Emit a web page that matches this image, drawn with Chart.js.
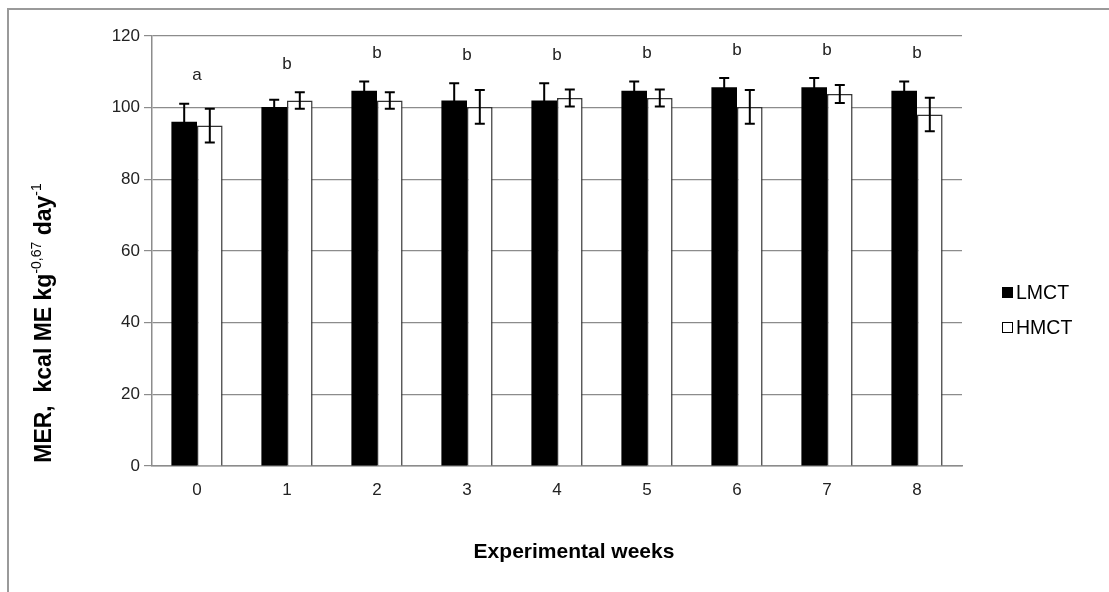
<!DOCTYPE html>
<html>
<head>
<meta charset="utf-8">
<script src="https://cdn.jsdelivr.net/npm/chart.js@4"></script>
<style>
  html, body { margin: 0; padding: 0; background: #fff; }
  #wrap { position: relative; width: 1109px; height: 592px; }
</style>
</head>
<body>
<div id="wrap"><canvas id="merChart" width="1109" height="592"></canvas></div>
<script>
// data
const weeks = ['0', '1', '2', '3', '4', '5', '6', '7', '8'];
const lmct = [96.1, 100.2, 104.7, 102.0, 102.0, 104.7, 105.7, 105.7, 104.7];
const lmctErr = [5.0, 2.0, 2.6, 4.8, 4.8, 2.6, 2.6, 2.6, 2.6];
const hmct = [95.0, 102.0, 102.0, 100.2, 102.7, 102.7, 100.2, 103.8, 98.1];
const hmctErr = [4.7, 2.3, 2.3, 4.7, 2.4, 2.4, 4.7, 2.5, 4.7];
const letters = ['a', 'b', 'b', 'b', 'b', 'b', 'b', 'b', 'b'];
const yTicks = [0, 20, 40, 60, 80, 100, 120];

const FONT = '"Liberation Sans", Arial, sans-serif';
const GRID = '#8c8c8c';

// frame, error bars, letters, titles and legend
const extras = {
  id: 'extras',
  beforeDraw(chart) {
    const c = chart.ctx;
    c.save();
    c.strokeStyle = '#9a9a9a';
    c.lineWidth = 2;
    c.beginPath();
    c.moveTo(8, 592);
    c.lineTo(8, 9);
    c.lineTo(1109, 9);
    c.stroke();
    c.restore();
  },
  afterDatasetsDraw(chart) {
    const c = chart.ctx;
    const y = chart.scales.y;
    const errs = [lmctErr, hmctErr];
    c.save();
    c.strokeStyle = '#000';
    c.lineWidth = 2;
    chart.data.datasets.forEach((ds, di) => {
      const meta = chart.getDatasetMeta(di);
      meta.data.forEach((bar, i) => {
        const v = ds.data[i], e = errs[di][i];
        const top = y.getPixelForValue(v + e), bot = y.getPixelForValue(v - e);
        c.beginPath();
        c.moveTo(bar.x, top); c.lineTo(bar.x, bot);
        c.moveTo(bar.x - 5, top); c.lineTo(bar.x + 5, top);
        c.moveTo(bar.x - 5, bot); c.lineTo(bar.x + 5, bot);
        c.stroke();
      });
    });
    // letters above the higher error bar
    c.fillStyle = '#222';
    c.font = '17px ' + FONT;
    c.textAlign = 'center';
    c.textBaseline = 'middle';
    const x = chart.scales.x;
    letters.forEach((l, i) => {
      const hi = Math.max(lmct[i] + lmctErr[i], hmct[i] + hmctErr[i]);
      c.fillText(l, x.getPixelForValue(i), y.getPixelForValue(hi) - 28);
    });
    c.restore();
  },
  afterDraw(chart) {
    const c = chart.ctx;
    c.save();
    // y title with superscripts
    const parts = [
      ['MER,  kcal ME kg', 'bold 23px ' + FONT, 0],
      ['-0,67', '14px ' + FONT, -10],
      [' day', 'bold 23px ' + FONT, 0],
      ['-1', '14px ' + FONT, -10]
    ];
    let total = 0;
    parts.forEach(p => { c.font = p[1]; total += c.measureText(p[0]).width; });
    c.translate(51, 323);
    c.rotate(-Math.PI / 2);
    c.fillStyle = '#000';
    c.textBaseline = 'alphabetic';
    c.textAlign = 'left';
    let pos = -total / 2;
    parts.forEach(p => {
      c.font = p[1];
      c.fillText(p[0], pos, p[2]);
      pos += c.measureText(p[0]).width;
    });
    c.restore();

    // x title
    c.save();
    c.fillStyle = '#000';
    c.font = 'bold 21px ' + FONT;
    c.textAlign = 'center';
    c.textBaseline = 'middle';
    c.fillText('Experimental weeks', (chart.chartArea.left + chart.chartArea.right) / 2 + 17, 552);

    // legend
    c.font = '19.5px ' + FONT;
    c.textAlign = 'left';
    chart.data.datasets.forEach((ds, di) => {
      const cy = 293 + di * 35;
      c.fillStyle = ds.backgroundColor;
      c.fillRect(1002, cy - 6, 11, 11);
      c.strokeStyle = '#000';
      c.lineWidth = 1;
      c.strokeRect(1002.5, cy - 5.5, 10, 10);
      c.fillStyle = '#000';
      c.fillText(ds.label, 1016, cy + 1);
    });
    c.restore();
  }
};

new Chart(document.getElementById('merChart'), {
  type: 'bar',
  data: {
    labels: weeks,
    datasets: [{
      label: 'LMCT',
      data: lmct,
      backgroundColor: '#000000',
      borderColor: '#000000',
      borderWidth: 0,
      categoryPercentage: 0.569,
      barPercentage: 1.0
    }, {
      label: 'HMCT',
      data: hmct,
      backgroundColor: '#ffffff',
      borderColor: '#333333',
      borderWidth: 1.5,
      categoryPercentage: 0.569,
      barPercentage: 1.0
    }]
  },
  options: {
    responsive: false,
    animation: false,
    devicePixelRatio: 1,
    layout: { padding: { left: 0, right: 147, top: 36, bottom: 0 } },
    plugins: {
      legend: { display: false },
      tooltip: { enabled: false }
    },
    scales: {
      x: {
        grid: { display: false },
        border: { display: true, color: GRID, width: 1.5 },
        ticks: { color: '#222', font: { family: FONT, size: 17 }, padding: 6 },
        afterFit(s) { s.height = 126; }
      },
      y: {
        min: 0,
        max: 120,
        afterBuildTicks(s) { s.ticks = yTicks.map(v => ({ value: v })); },
        grid: { color: GRID, lineWidth: 1.2, tickLength: 8 },
        border: { display: true, color: GRID, width: 1.5 },
        ticks: { color: '#222', font: { family: FONT, size: 17 }, padding: 4 },
        afterFit(s) { s.width = 152; }
      }
    }
  },
  plugins: [extras]
});
</script>
</body>
</html>
